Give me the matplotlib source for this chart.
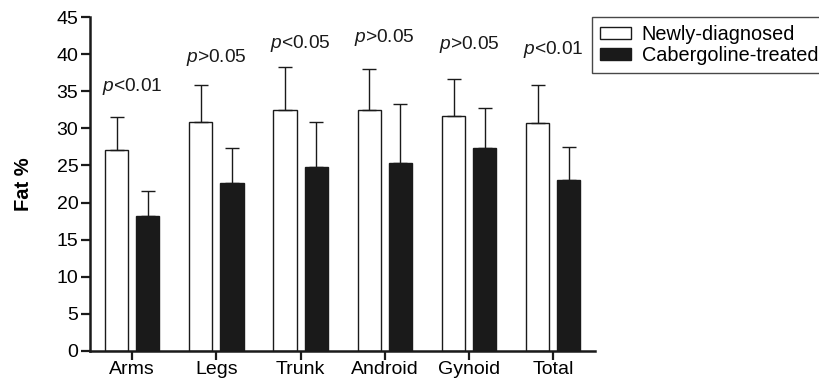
import matplotlib
matplotlib.use("Agg")
import matplotlib.pyplot as plt
import numpy as np

plt.rcParams['font.family'] = ['Liberation Sans', 'DejaVu Sans']
plt.rcParams['mathtext.fontset'] = 'custom'
plt.rcParams['mathtext.rm'] = 'Liberation Sans'
plt.rcParams['mathtext.it'] = 'Liberation Sans:italic'

# data
regions = ['Arms', 'Legs', 'Trunk', 'Android', 'Gynoid', 'Total']
newly_mean = [27.1, 30.9, 32.5, 32.5, 31.7, 30.7]
newly_sd = [4.4, 5.0, 5.8, 5.5, 5.0, 5.1]
caber_mean = [18.2, 22.6, 24.8, 25.4, 27.4, 23.1]
caber_sd = [3.4, 4.7, 6.1, 7.9, 5.4, 4.4]
p_labels = ['<0.01', '>0.05', '<0.05', '>0.05', '>0.05', '<0.01']
p_heights = [35.6, 39.6, 41.5, 42.2, 41.3, 40.6]

fig = plt.figure(figsize=(8.19, 3.83), dpi=100)
ax = fig.add_axes([0.110, 0.084, 0.617, 0.871])

x = np.arange(len(regions))
w = 0.275
off = 0.185
dark = '#1a1a1a'

ax.bar(x - off, newly_mean, w, color='white', edgecolor=dark, linewidth=1.0,
       yerr=[np.zeros(len(x)), newly_sd], capsize=5,
       error_kw=dict(ecolor=dark, elinewidth=1.0, capthick=1.0),
       label='Newly-diagnosed', zorder=2)
ax.bar(x + off, caber_mean, w, color=dark, edgecolor=dark, linewidth=1.0,
       yerr=[np.zeros(len(x)), caber_sd], capsize=5,
       error_kw=dict(ecolor=dark, elinewidth=1.0, capthick=1.0),
       label='Cabergoline-treated', zorder=2)

for xi, lab, h in zip(x, p_labels, p_heights):
    ax.text(xi, h, '$p$' + lab, ha='center', va='center', fontsize=13.8, color=dark)

ax.set_xlim(-0.5, 5.5)
ax.set_ylim(0, 45)
ax.set_yticks(np.arange(0, 46, 5))
ax.set_xticks(x)
ax.set_xticklabels(regions)
ax.set_ylabel('Fat %', fontsize=14.5, fontweight='bold', labelpad=17)

for s in ['top', 'right']:
    ax.spines[s].set_visible(False)
for s in ['left', 'bottom']:
    ax.spines[s].set_linewidth(1.8)
    ax.spines[s].set_color(dark)
ax.tick_params(axis='both', width=1.6, length=6.5, labelsize=14, color=dark)
ax.tick_params(axis='x', pad=1)
ax.tick_params(axis='y', pad=2)

leg = fig.legend(loc='upper left', bbox_to_anchor=(592 / 819, 1 - 17 / 383),
                 fontsize=14.3, frameon=True, fancybox=False, edgecolor=dark,
                 handlelength=1.55, handleheight=0.5, handletextpad=0.55,
                 labelspacing=0.1, borderpad=0.4, borderaxespad=0)
leg.get_frame().set_linewidth(1.0)

fig.savefig('out.png', dpi=100)
